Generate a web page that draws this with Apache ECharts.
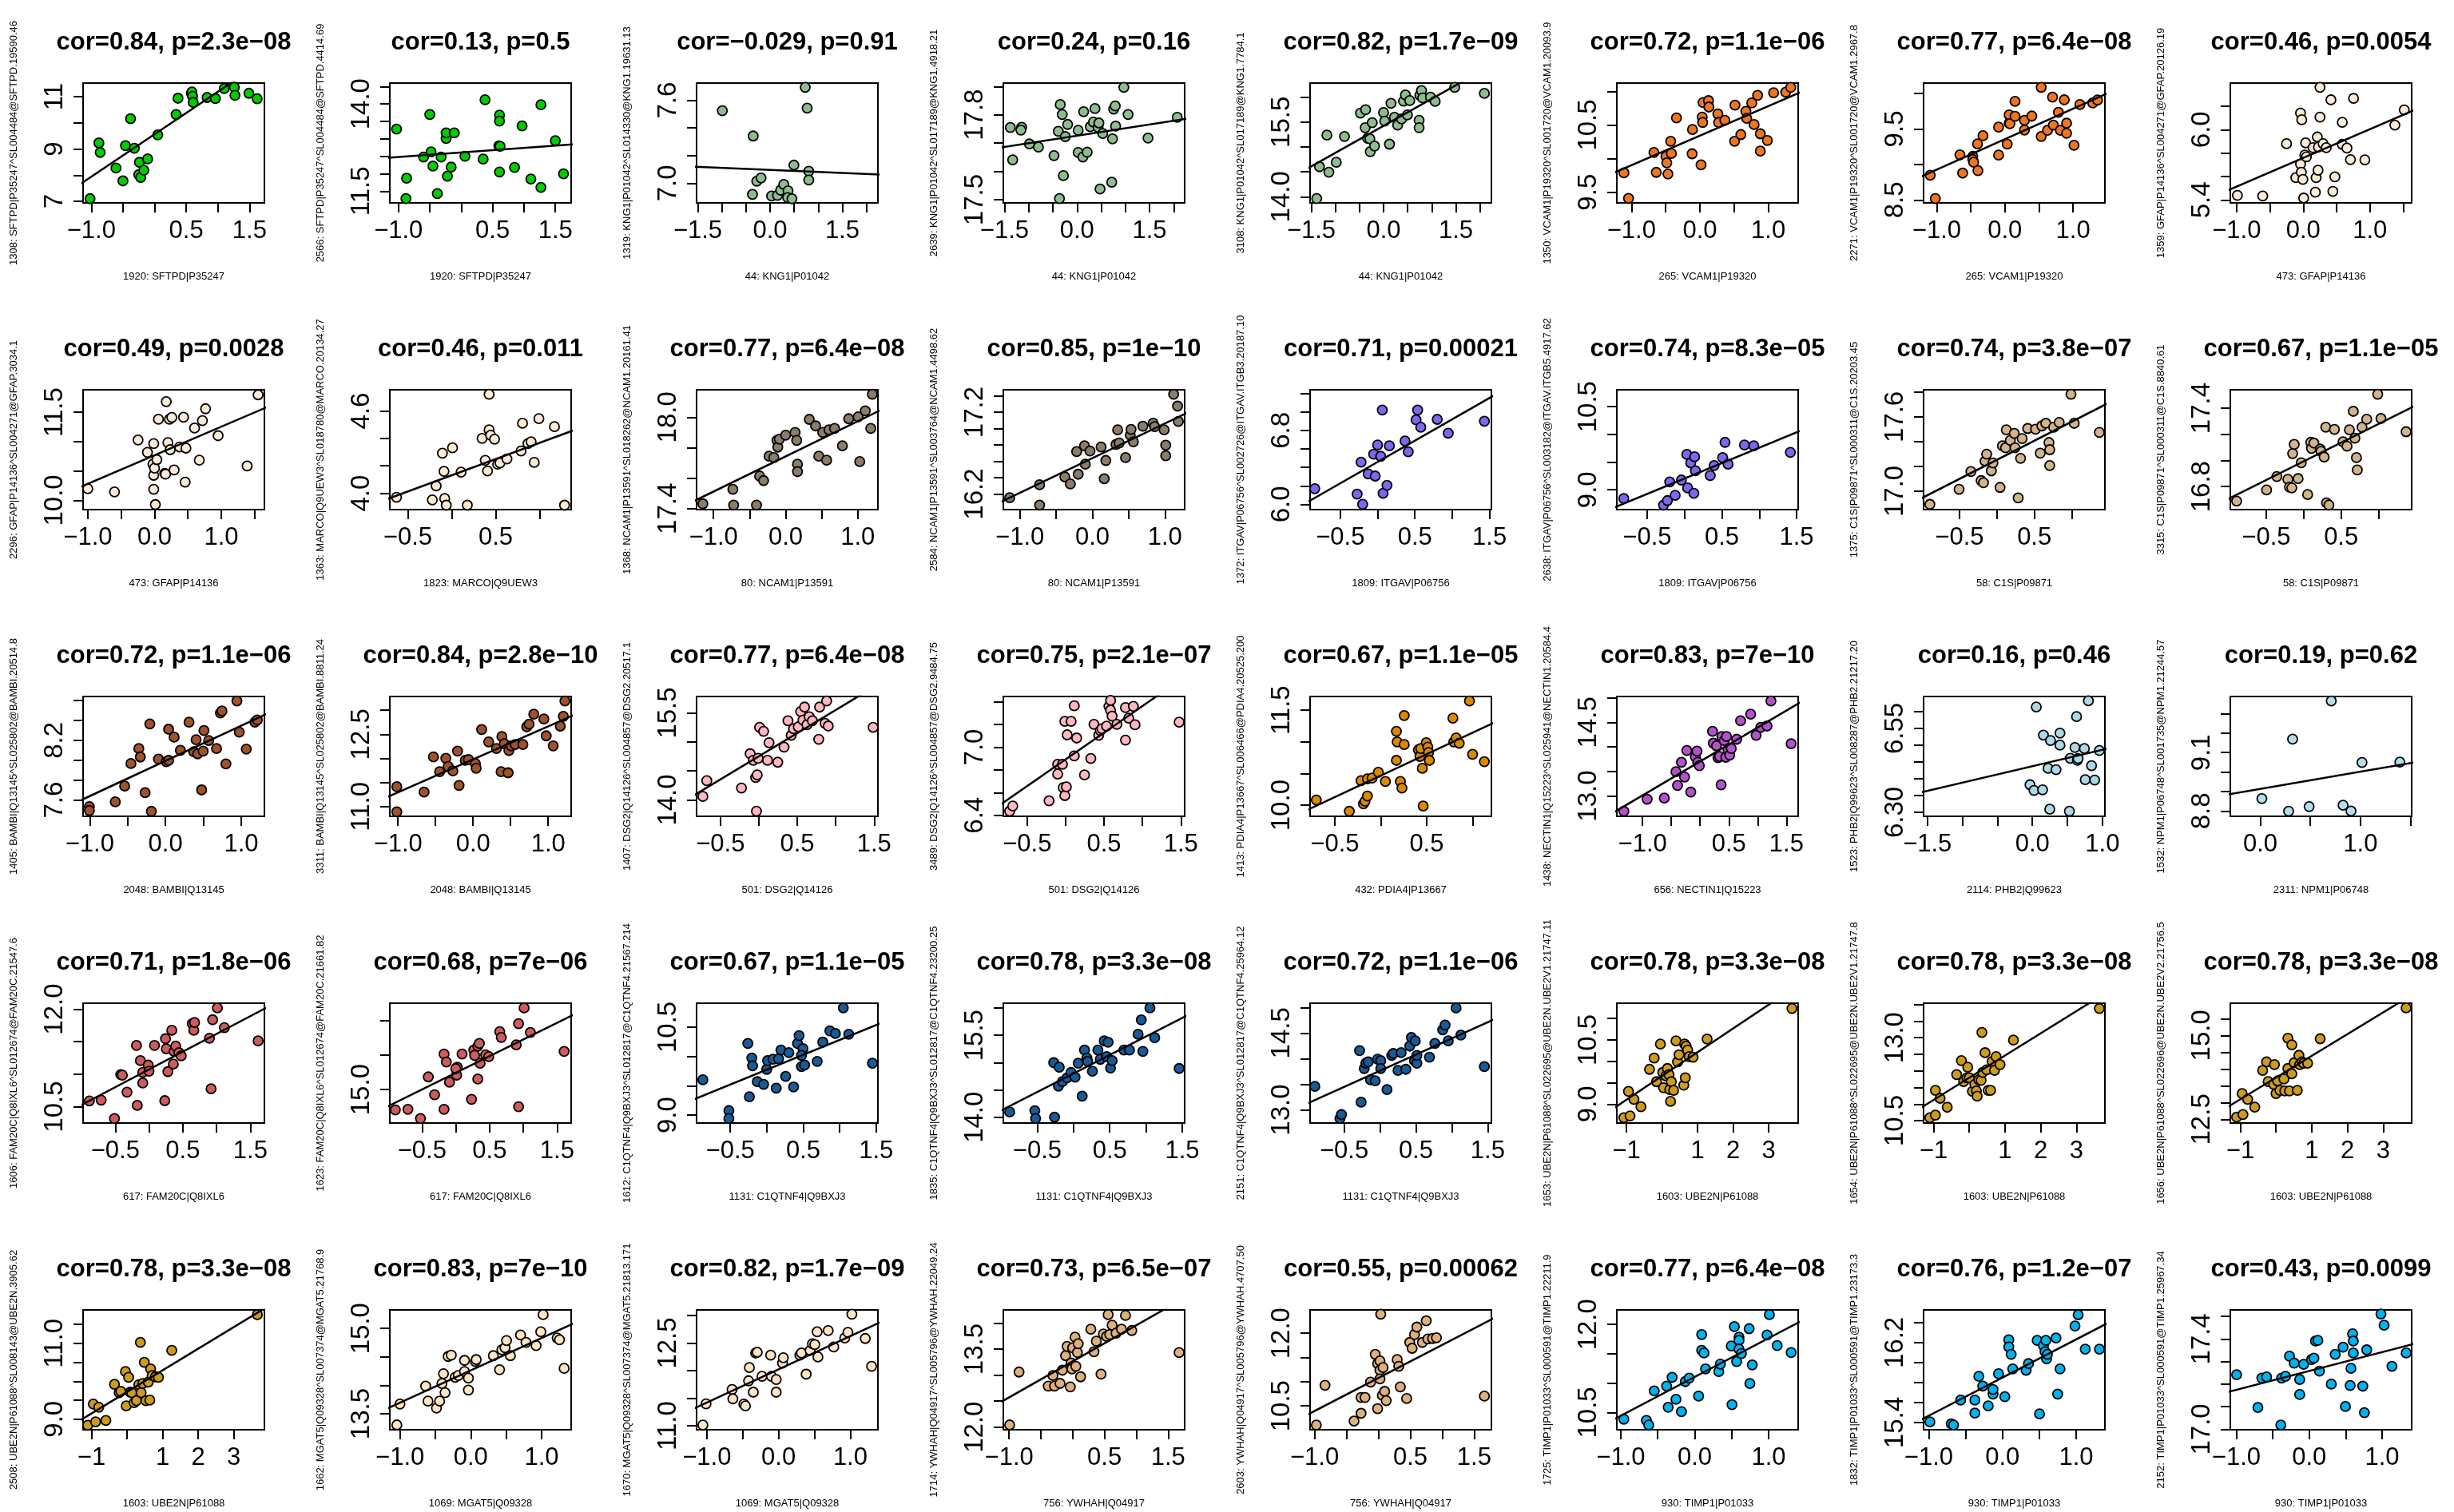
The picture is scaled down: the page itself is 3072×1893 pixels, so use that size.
<!DOCTYPE html>
<html>
<head>
<meta charset="utf-8">
<script src="https://cdn.jsdelivr.net/npm/echarts@6/dist/echarts.min.js"></script>
<style>
  html, body { margin: 0; padding: 0; background: #fff; }
  #chart { width: 3072px; height: 1893px; }
</style>
</head>
<body>
<div id="chart"></div>
<script>
// ---- panel texts -------------------------------------------------------
const titles = [
  'cor=0.84, p=2.3e-08', 'cor=0.13, p=0.5', 'cor=-0.029, p=0.91', 'cor=0.24, p=0.16',
  'cor=0.82, p=1.7e-09', 'cor=0.72, p=1.1e-06', 'cor=0.77, p=6.4e-08', 'cor=0.46, p=0.0054',
  'cor=0.49, p=0.0028', 'cor=0.46, p=0.011', 'cor=0.77, p=6.4e-08', 'cor=0.85, p=1e-10',
  'cor=0.71, p=0.00021', 'cor=0.74, p=8.3e-05', 'cor=0.74, p=3.8e-07', 'cor=0.67, p=1.1e-05',
  'cor=0.72, p=1.1e-06', 'cor=0.84, p=2.8e-10', 'cor=0.77, p=6.4e-08', 'cor=0.75, p=2.1e-07',
  'cor=0.67, p=1.1e-05', 'cor=0.83, p=7e-10', 'cor=0.16, p=0.46', 'cor=0.19, p=0.62',
  'cor=0.71, p=1.8e-06', 'cor=0.68, p=7e-06', 'cor=0.67, p=1.1e-05', 'cor=0.78, p=3.3e-08',
  'cor=0.72, p=1.1e-06', 'cor=0.78, p=3.3e-08', 'cor=0.78, p=3.3e-08', 'cor=0.78, p=3.3e-08',
  'cor=0.78, p=3.3e-08', 'cor=0.83, p=7e-10', 'cor=0.82, p=1.7e-09', 'cor=0.73, p=6.5e-07',
  'cor=0.55, p=0.00062', 'cor=0.77, p=6.4e-08', 'cor=0.76, p=1.2e-07', 'cor=0.43, p=0.0099'
];

const yNames = [
  '1308: SFTPD|P35247^SL004484@SFTPD.19590.46', '2566: SFTPD|P35247^SL004484@SFTPD.4414.69',
  '1319: KNG1|P01042^SL014330@KNG1.19631.13', '2639: KNG1|P01042^SL017189@KNG1.4918.21',
  '3108: KNG1|P01042^SL017189@KNG1.7784.1', '1350: VCAM1|P19320^SL001720@VCAM1.20093.9',
  '2271: VCAM1|P19320^SL001720@VCAM1.2967.8', '1359: GFAP|P14136^SL004271@GFAP.20126.19',
  '2296: GFAP|P14136^SL004271@GFAP.3034.1', '1363: MARCO|Q9UEW3^SL018780@MARCO.20134.27',
  '1368: NCAM1|P13591^SL018262@NCAM1.20161.41', '2584: NCAM1|P13591^SL003764@NCAM1.4498.62',
  '1372: ITGAV|P06756^SL002726@ITGAV.ITGB3.20187.10', '2638: ITGAV|P06756^SL003182@ITGAV.ITGB5.4917.62',
  '1375: C1S|P09871^SL000311@C1S.20203.45', '3315: C1S|P09871^SL000311@C1S.8840.61',
  '1405: BAMBI|Q13145^SL025802@BAMBI.20514.8', '3311: BAMBI|Q13145^SL025802@BAMBI.8811.24',
  '1407: DSG2|Q14126^SL004857@DSG2.20517.1', '3489: DSG2|Q14126^SL004857@DSG2.9484.75',
  '1413: PDIA4|P13667^SL006466@PDIA4.20525.200', '1438: NECTIN1|Q15223^SL025941@NECTIN1.20584.4',
  '1523: PHB2|Q99623^SL008287@PHB2.21217.20', '1532: NPM1|P06748^SL001735@NPM1.21244.57',
  '1606: FAM20C|Q8IXL6^SL012674@FAM20C.21547.6', '1623: FAM20C|Q8IXL6^SL012674@FAM20C.21661.82',
  '1612: C1QTNF4|Q9BXJ3^SL012817@C1QTNF4.21567.214', '1835: C1QTNF4|Q9BXJ3^SL012817@C1QTNF4.23200.25',
  '2151: C1QTNF4|Q9BXJ3^SL012817@C1QTNF4.25964.12', '1653: UBE2N|P61088^SL022695@UBE2N.UBE2V1.21747.11',
  '1654: UBE2N|P61088^SL022695@UBE2N.UBE2V1.21747.8', '1656: UBE2N|P61088^SL022696@UBE2N.UBE2V2.21756.5',
  '2508: UBE2N|P61088^SL008143@UBE2N.3905.62', '1662: MGAT5|Q09328^SL007374@MGAT5.21768.9',
  '1670: MGAT5|Q09328^SL007374@MGAT5.21813.171', '1714: YWHAH|Q04917^SL005796@YWHAH.22049.24',
  '2603: YWHAH|Q04917^SL005796@YWHAH.4707.50', '1725: TIMP1|P01033^SL000591@TIMP1.22211.9',
  '1832: TIMP1|P01033^SL000591@TIMP1.23173.3', '2152: TIMP1|P01033^SL000591@TIMP1.25967.34'
];

const xNames = [
  '1920: SFTPD|P35247', '1920: SFTPD|P35247', '44: KNG1|P01042', '44: KNG1|P01042',
  '44: KNG1|P01042', '265: VCAM1|P19320', '265: VCAM1|P19320', '473: GFAP|P14136',
  '473: GFAP|P14136', '1823: MARCO|Q9UEW3', '80: NCAM1|P13591', '80: NCAM1|P13591',
  '1809: ITGAV|P06756', '1809: ITGAV|P06756', '58: C1S|P09871', '58: C1S|P09871',
  '2048: BAMBI|Q13145', '2048: BAMBI|Q13145', '501: DSG2|Q14126', '501: DSG2|Q14126',
  '432: PDIA4|P13667', '656: NECTIN1|Q15223', '2114: PHB2|Q99623', '2311: NPM1|P06748',
  '617: FAM20C|Q8IXL6', '617: FAM20C|Q8IXL6', '1131: C1QTNF4|Q9BXJ3', '1131: C1QTNF4|Q9BXJ3',
  '1131: C1QTNF4|Q9BXJ3', '1603: UBE2N|P61088', '1603: UBE2N|P61088', '1603: UBE2N|P61088',
  '1603: UBE2N|P61088', '1069: MGAT5|Q09328', '1069: MGAT5|Q09328', '756: YWHAH|Q04917',
  '756: YWHAH|Q04917', '930: TIMP1|P01033', '930: TIMP1|P01033', '930: TIMP1|P01033'
];

const colors = [
  '#00CD00', '#00CD00', '#8FBC8F', '#8FBC8F', '#8FBC8F', '#EE7621', '#EE7621', '#FAEBD7',
  '#FAEBD7', '#FCEBD0', '#8B7D6B', '#8B7D6B', '#7B68EE', '#7B68EE', '#D2B48C', '#D2B48C',
  '#A0522D', '#A0522D', '#FFB6C1', '#FFB6C1', '#DA8A00', '#B452CD', '#ADD8E6', '#B2DFEE',
  '#CD5C5C', '#CD5C5C', '#1A5A96', '#1A5A96', '#1A5A96', '#CD9B1D', '#CD9B1D', '#CD9B1D',
  '#CD9B1D', '#FFE4C4', '#FFE4C4', '#DEB07D', '#DEB07D', '#00B2EE', '#00B2EE', '#00B2EE'
];

// ---- axis ranges (plot box limits) -------------------------------------
const xLims = [
  [-1.130, 1.735], [-1.137, 1.752], [-1.525, 2.238], [-1.524, 2.226], [-1.525, 2.238],
  [-1.214, 1.436], [-1.192, 1.467], [-1.094, 1.626], [-1.071, 1.647], [-0.704, 1.358],
  [-1.235, 1.279], [-1.228, 1.272], [-0.905, 1.526], [-0.906, 1.521], [-0.979, 1.442],
  [-0.979, 1.442], [-1.088, 1.306], [-1.109, 1.306], [-0.810, 1.549], [-0.810, 1.549],
  [-0.769, 1.205], [-1.446, 1.703], [-1.554, 1.036], [-0.299, 1.512], [-0.977, 1.709],
  [-0.977, 1.709], [-0.962, 1.524], [-0.967, 1.533], [-0.973, 1.552], [-1.269, 3.829],
  [-1.280, 3.797], [-1.280, 3.797], [-1.236, 3.863], [-1.143, 1.418], [-1.143, 1.385],
  [-1.090, 1.760], [-1.070, 1.771], [-1.053, 1.400], [-1.070, 1.390], [-1.081, 1.405]
];
const yLims = [
  [6.94, 11.52], [11.165, 14.60], [6.858, 7.725], [17.489, 17.912], [13.877, 16.283],
  [9.342, 11.123], [8.459, 10.146], [5.375, 6.397], [9.843, 11.881], [3.881, 4.754],
  [17.394, 18.180], [16.010, 17.474], [5.943, 7.240], [8.643, 10.805], [16.851, 17.819],
  [16.624, 17.541], [7.436, 8.640], [10.797, 13.285], [13.718, 15.782], [6.391, 7.447],
  [9.825, 11.717], [12.586, 15.027], [6.288, 6.645], [8.773, 9.388], [10.249, 12.093],
  [14.517, 16.247], [8.865, 10.908], [13.894, 16.087], [12.743, 15.082], [8.557, 11.357],
  [10.429, 14.040], [12.390, 15.959], [8.721, 11.882], [13.221, 15.325], [10.928, 13.101],
  [11.949, 14.254], [10.009, 12.480], [10.207, 12.248], [15.329, 16.527], [16.998, 17.529]
];

// ---- tick marks and the tick labels that are printed --------------------
const xTicks = [
  [-1, -0.5, 0, 0.5, 1, 1.5], [-1, -0.5, 0, 0.5, 1, 1.5],
  [-1.5, -1, -0.5, 0, 0.5, 1, 1.5, 2], [-1.5, -1, -0.5, 0, 0.5, 1, 1.5, 2], [-1.5, -1, -0.5, 0, 0.5, 1, 1.5, 2],
  [-1, -0.5, 0, 0.5, 1], [-1, -0.5, 0, 0.5, 1], [-1, -0.5, 0, 0.5, 1, 1.5],
  [-1, -0.5, 0, 0.5, 1, 1.5], [-0.5, 0, 0.5, 1], [-1, -0.5, 0, 0.5, 1], [-1, -0.5, 0, 0.5, 1],
  [-0.5, 0, 0.5, 1, 1.5], [-0.5, 0, 0.5, 1, 1.5], [-0.5, 0, 0.5, 1], [-0.5, 0, 0.5, 1],
  [-1, -0.5, 0, 0.5, 1], [-1, -0.5, 0, 0.5, 1], [-0.5, 0, 0.5, 1, 1.5], [-0.5, 0, 0.5, 1, 1.5],
  [-0.5, 0, 0.5, 1], [-1, -0.5, 0, 0.5, 1, 1.5], [-1.5, -1, -0.5, 0, 0.5, 1], [0, 0.5, 1, 1.5],
  [-0.5, 0, 0.5, 1, 1.5], [-0.5, 0, 0.5, 1, 1.5], [-0.5, 0, 0.5, 1, 1.5], [-0.5, 0, 0.5, 1, 1.5],
  [-0.5, 0, 0.5, 1, 1.5], [-1, 0, 1, 2, 3], [-1, 0, 1, 2, 3], [-1, 0, 1, 2, 3],
  [-1, 0, 1, 2, 3], [-1, -0.5, 0, 0.5, 1], [-1, -0.5, 0, 0.5, 1], [-1, -0.5, 0, 0.5, 1, 1.5],
  [-1, -0.5, 0, 0.5, 1, 1.5], [-1, -0.5, 0, 0.5, 1], [-1, -0.5, 0, 0.5, 1], [-1, -0.5, 0, 0.5, 1]
];
const xTickLabels = [
  ['-1.0', '0.5', '1.5'], ['-1.0', '0.5', '1.5'], ['-1.5', '0.0', '1.5'], ['-1.5', '0.0', '1.5'],
  ['-1.5', '0.0', '1.5'], ['-1.0', '0.0', '1.0'], ['-1.0', '0.0', '1.0'], ['-1.0', '0.0', '1.0'],
  ['-1.0', '0.0', '1.0'], ['-0.5', '0.5'], ['-1.0', '0.0', '1.0'], ['-1.0', '0.0', '1.0'],
  ['-0.5', '0.5', '1.5'], ['-0.5', '0.5', '1.5'], ['-0.5', '0.5'], ['-0.5', '0.5'],
  ['-1.0', '0.0', '1.0'], ['-1.0', '0.0', '1.0'], ['-0.5', '0.5', '1.5'], ['-0.5', '0.5', '1.5'],
  ['-0.5', '0.5'], ['-1.0', '0.5', '1.5'], ['-1.5', '0.0', '1.0'], ['0.0', '1.0'],
  ['-0.5', '0.5', '1.5'], ['-0.5', '0.5', '1.5'], ['-0.5', '0.5', '1.5'], ['-0.5', '0.5', '1.5'],
  ['-0.5', '0.5', '1.5'], ['-1', '1', '2', '3'], ['-1', '1', '2', '3'], ['-1', '1', '2', '3'],
  ['-1', '1', '2', '3'], ['-1.0', '0.0', '1.0'], ['-1.0', '0.0', '1.0'], ['-1.0', '0.5', '1.5'],
  ['-1.0', '0.5', '1.5'], ['-1.0', '0.0', '1.0'], ['-1.0', '0.0', '1.0'], ['-1.0', '0.0', '1.0']
];
const yTicks = [
  [7, 8, 9, 10, 11], [11.5, 12, 12.5, 13, 13.5, 14, 14.5], [7.0, 7.2, 7.4, 7.6],
  [17.5, 17.6, 17.7, 17.8, 17.9], [14, 14.5, 15, 15.5, 16], [9.5, 10, 10.5, 11],
  [8.5, 9, 9.5, 10], [5.4, 5.6, 5.8, 6.0, 6.2], [10, 10.5, 11, 11.5], [4.0, 4.2, 4.4, 4.6],
  [17.4, 17.6, 17.8, 18.0], [16.2, 16.4, 16.6, 16.8, 17.0, 17.2, 17.4],
  [6.0, 6.2, 6.4, 6.6, 6.8, 7.0, 7.2], [9, 9.5, 10, 10.5], [17.0, 17.2, 17.4, 17.6, 17.8],
  [16.8, 17.0, 17.2, 17.4], [7.6, 7.8, 8.0, 8.2, 8.4, 8.6], [11, 11.5, 12, 12.5, 13],
  [14, 14.5, 15, 15.5], [6.4, 6.6, 6.8, 7.0, 7.2, 7.4], [10, 10.5, 11, 11.5],
  [13, 13.5, 14, 14.5, 15], [6.30, 6.35, 6.40, 6.45, 6.50, 6.55, 6.60],
  [8.8, 8.9, 9.0, 9.1, 9.2, 9.3], [10.5, 11, 11.5, 12], [15, 15.5, 16], [9, 9.5, 10, 10.5],
  [14, 14.5, 15, 15.5, 16], [13, 13.5, 14, 14.5, 15], [9, 9.5, 10, 10.5, 11],
  [10.5, 11, 11.5, 12, 12.5, 13, 13.5, 14], [12.5, 13, 13.5, 14, 14.5, 15, 15.5],
  [9, 9.5, 10, 10.5, 11, 11.5], [13.5, 14, 14.5, 15], [11, 11.5, 12, 12.5, 13],
  [12, 12.5, 13, 13.5, 14], [10.5, 11, 11.5, 12], [10.5, 11, 11.5, 12],
  [15.4, 15.6, 15.8, 16.0, 16.2, 16.4], [17.0, 17.1, 17.2, 17.3, 17.4, 17.5]
];
const yTickLabels = [
  ['7', '9', '11'], ['11.5', '14.0'], ['7.0', '7.6'], ['17.5', '17.8'], ['14.0', '15.5'],
  ['9.5', '10.5'], ['8.5', '9.5'], ['5.4', '6.0'], ['10.0', '11.5'], ['4.0', '4.6'],
  ['17.4', '18.0'], ['16.2', '17.2'], ['6.0', '6.8'], ['9.0', '10.5'], ['17.0', '17.6'],
  ['16.8', '17.4'], ['7.6', '8.2'], ['11.0', '12.5'], ['14.0', '15.5'], ['6.4', '7.0'],
  ['10.0', '11.5'], ['13.0', '14.5'], ['6.30', '6.55'], ['8.8', '9.1'], ['10.5', '12.0'],
  ['15.0'], ['9.0', '10.5'], ['14.0', '15.5'], ['13.0', '14.5'], ['9.0', '10.5'],
  ['10.5', '13.0'], ['12.5', '15.0'], ['9.0', '11.0'], ['13.5', '15.0'], ['11.0', '12.5'],
  ['12.0', '13.5'], ['10.5', '12.0'], ['10.5', '12.0'], ['15.4', '16.2'], ['17.0', '17.4']
];

// ---- least-squares lines, two points on each ---------------------------
const fitLines = [
  [[-1.130, 7.73], [1.204, 11.52]], [[-1.137, 12.46], [1.752, 12.84]],
  [[-1.525, 7.119], [2.238, 7.063]], [[-1.524, 17.686], [2.226, 17.785]],
  [[-1.525, 14.597], [1.582, 16.283]], [[-1.214, 9.808], [1.436, 10.973]],
  [[-1.192, 8.844], [1.467, 9.985]], [[-1.094, 5.491], [1.626, 6.157]],
  [[-1.071, 10.247], [1.647, 11.567]], [[-0.704, 3.965], [1.358, 4.452]],
  [[-1.235, 17.458], [1.279, 18.038]], [[-1.228, 16.119], [1.272, 17.177]],
  [[-0.905, 6.040], [1.526, 7.163]], [[-0.906, 8.700], [1.521, 10.048]],
  [[-0.979, 16.951], [1.442, 17.698]], [[-0.979, 16.713], [1.442, 17.406]],
  [[-1.088, 7.608], [1.306, 8.454]], [[-1.109, 11.219], [1.306, 12.874]],
  [[-0.810, 14.105], [1.292, 15.782]], [[-0.810, 6.512], [1.179, 7.447]],
  [[-0.769, 9.946], [1.205, 11.283]], [[-1.446, 12.704], [1.703, 14.882]],
  [[-1.554, 6.361], [1.036, 6.488]], [[-0.299, 8.887], [1.512, 9.047]],
  [[-0.977, 10.541], [1.709, 12.008]], [[-0.977, 14.772], [1.709, 16.065]],
  [[-0.962, 9.287], [1.524, 10.549]], [[-0.967, 14.145], [1.533, 15.841]],
  [[-0.973, 13.149], [1.552, 14.743]], [[-1.269, 8.951], [3.063, 11.357]],
  [[-1.280, 10.937], [3.355, 14.040]], [[-1.280, 12.916], [3.422, 15.959]],
  [[-1.236, 9.014], [3.797, 11.882]], [[-1.143, 13.616], [1.418, 15.070]],
  [[-1.143, 11.336], [1.385, 12.856]], [[-1.090, 12.509], [1.425, 14.254]],
  [[-1.070, 10.347], [1.771, 12.284]], [[-1.053, 10.410], [1.400, 12.032]],
  [[-1.070, 15.442], [1.390, 16.381]], [[-1.081, 17.168], [1.405, 17.376]]
];

// ---- sample values, one list per panel ---------------------------------
const P01 = [[-1.02,7.10],[-0.88,9.23],[-0.86,8.87],[-0.61,8.27],[-0.50,7.78],[-0.46,9.13],[-0.38,10.16],[-0.32,9.03],[-0.25,8.02],[-0.24,8.49],[-0.22,7.91],[-0.17,8.19],[-0.11,8.62],[0.05,9.54],[0.34,10.32],[0.37,10.94],[0.58,11.13],[0.59,11.18],[0.60,11.01],[0.61,10.78],[0.83,10.97],[0.96,10.93],[1.10,11.31],[1.26,11.36],[1.27,11.05],[1.49,11.13],[1.62,10.92]];
const P02 = [[-1.03,13.28],[-0.87,11.87],[-0.88,11.29],[-0.60,12.48],[-0.50,13.70],[-0.48,12.63],[-0.45,12.22],[-0.38,11.43],[-0.32,12.48],[-0.24,13.01],[-0.24,13.17],[-0.22,11.93],[-0.16,12.19],[-0.11,13.17],[0.06,12.50],[0.35,12.42],[0.38,14.12],[0.61,13.68],[0.61,13.51],[0.60,12.80],[0.62,12.79],[0.61,12.05],[0.85,12.18],[0.97,13.37],[1.11,11.85],[1.27,13.98],[1.27,11.61],[1.50,12.95],[1.63,12.00]];
const P03 = [[-0.99,7.525],[-0.35,7.342],[-0.365,6.919],[-0.276,7.015],[-0.187,7.038],[0.032,6.908],[0.154,6.912],[0.219,6.950],[0.284,6.992],[0.373,6.946],[0.365,6.896],[0.454,6.888],[0.495,7.131],[0.730,7.694],[0.770,7.544],[0.803,7.087],[0.803,7.023]];
const P04 = [[-1.379,17.755],[-1.331,17.641],[-1.145,17.756],[-1.161,17.746],[-0.984,17.697],[-0.798,17.686],[-0.476,17.656],[-0.387,17.742],[-0.363,17.504],[-0.347,17.836],[-0.306,17.801],[-0.282,17.585],[-0.242,17.723],[-0.194,17.766],[0.024,17.745],[0.024,17.667],[0.121,17.651],[0.137,17.811],[0.210,17.668],[0.274,17.758],[0.339,17.774],[0.371,17.822],[0.435,17.756],[0.452,17.771],[0.532,17.734],[0.476,17.538],[0.734,17.715],[0.718,17.562],[0.758,17.820],[0.790,17.831],[0.798,17.760],[0.968,17.897],[1.056,17.801],[1.468,17.718],[2.073,17.791]];
const P05 = [[-1.387,13.963],[-1.330,14.603],[-1.176,15.237],[-1.135,14.491],[-0.981,14.693],[-0.811,15.211],[-0.479,15.680],[-0.373,15.749],[-0.381,15.387],[-0.333,15.173],[-0.284,15.163],[-0.276,14.907],[-0.235,15.488],[-0.187,15.019],[0.000,15.691],[0.024,15.520],[0.122,15.056],[0.154,15.877],[0.227,15.595],[0.292,15.440],[0.373,15.563],[0.414,15.920],[0.454,16.043],[0.495,15.643],[0.543,15.931],[0.738,15.536],[0.738,15.387],[0.754,16.037],[0.787,16.133],[0.811,15.984],[0.973,16.000],[1.071,15.915],[1.476,16.197],[2.092,16.075]];
const P06 = [[-1.111,9.788],[-1.043,9.409],[-0.672,10.092],[-0.638,9.796],[-0.496,10.033],[-0.484,9.938],[-0.467,9.772],[-0.427,10.258],[-0.416,10.076],[-0.342,10.605],[-0.114,10.072],[-0.108,10.432],[0.017,9.907],[0.034,10.617],[0.040,10.538],[0.046,10.834],[0.125,10.862],[0.131,10.767],[0.262,10.665],[0.274,10.538],[0.365,10.570],[0.507,10.258],[0.513,10.795],[0.598,10.357],[0.672,10.704],[0.684,10.598],[0.758,10.827],[0.792,10.507],[0.843,10.941],[0.883,10.369],[0.883,10.112],[0.986,10.270],[1.077,10.980],[1.254,10.988],[1.328,11.059]];
const P07 = [[-1.095,8.848],[-1.020,8.519],[-0.659,9.136],[-0.619,8.878],[-0.470,9.114],[-0.470,9.069],[-0.458,9.031],[-0.401,9.289],[-0.395,8.912],[-0.321,9.405],[-0.092,9.132],[-0.092,9.525],[0.034,9.286],[0.063,9.581],[0.063,9.697],[0.074,9.574],[0.149,9.678],[0.149,9.888],[0.287,9.622],[0.287,9.484],[0.395,9.682],[0.533,9.394],[0.533,10.086],[0.625,9.480],[0.699,9.948],[0.711,9.555],[0.785,9.735],[0.814,9.480],[0.871,9.910],[0.905,9.581],[0.905,9.439],[1.014,9.271],[1.100,9.843],[1.289,9.866],[1.358,9.907]];
const P08 = [[-0.988,5.439],[-0.608,5.434],[-0.251,5.880],[-0.111,5.590],[-0.041,6.141],[-0.023,6.084],[-0.041,5.706],[-0.029,5.636],[-0.006,5.575],[0.006,5.416],[0.023,5.783],[0.035,5.887],[0.047,5.767],[0.146,5.846],[0.181,5.466],[0.193,5.590],[0.211,5.937],[0.222,5.654],[0.228,5.851],[0.251,6.361],[0.251,6.107],[0.298,5.880],[0.345,5.846],[0.415,6.254],[0.444,5.473],[0.474,5.597],[0.585,6.062],[0.585,5.874],[0.655,5.842],[0.708,5.744],[0.754,6.266],[0.924,5.742],[1.374,6.039],[1.515,6.168]];
const P09 = [[-1.000,10.198],[-0.600,10.144],[-0.247,11.028],[-0.106,10.817],[-0.024,10.615],[-0.012,10.965],[-0.012,10.427],[-0.012,10.189],[0.000,10.548],[0.012,9.928],[0.035,10.692],[0.059,11.379],[0.153,10.458],[0.176,11.679],[0.200,10.983],[0.224,11.379],[0.235,10.862],[0.259,11.410],[0.294,10.516],[0.165,10.445],[0.376,10.907],[0.435,11.414],[0.459,10.310],[0.471,10.889],[0.600,11.230],[0.671,10.683],[0.718,11.356],[0.765,11.558],[0.953,11.100],[1.388,10.584],[1.553,11.796]];
const P10 = [[-0.628,3.971],[-0.221,3.952],[-0.177,4.054],[-0.106,4.292],[-0.088,4.160],[-0.080,3.962],[-0.062,3.913],[0.009,4.331],[0.106,4.154],[0.177,3.913],[0.345,4.400],[0.381,4.240],[0.407,4.163],[0.425,4.462],[0.425,4.721],[0.442,4.423],[0.487,4.394],[0.522,4.212],[0.549,4.221],[0.628,4.250],[0.788,4.308],[0.805,4.510],[0.867,4.362],[0.903,4.375],[0.938,4.225],[0.991,4.544],[1.168,4.485],[1.283,3.913]];
const P11 = [[-1.148,17.432],[-0.732,17.527],[-0.721,17.423],[-0.404,17.423],[-0.361,17.614],[-0.306,17.584],[-0.230,17.744],[-0.164,17.735],[-0.120,17.848],[-0.109,17.804],[-0.087,17.856],[0.000,17.882],[0.131,17.900],[0.153,17.848],[0.164,17.692],[0.164,17.643],[0.328,17.986],[0.415,17.943],[0.459,17.744],[0.514,17.900],[0.568,17.718],[0.601,17.917],[0.678,17.926],[0.787,17.813],[0.874,17.990],[1.005,18.003],[1.027,17.709],[1.104,18.042],[1.180,17.926],[1.202,18.151]];
const P12 = [[-1.141,16.155],[-0.728,16.313],[-0.728,16.065],[-0.380,16.410],[-0.304,16.323],[-0.196,16.442],[-0.217,16.719],[-0.109,16.790],[-0.033,16.726],[-0.098,16.565],[0.120,16.774],[0.163,16.387],[0.185,16.610],[0.326,16.806],[0.348,16.984],[0.370,16.823],[0.457,16.645],[0.522,16.919],[0.533,16.990],[0.565,16.839],[0.696,17.029],[0.837,17.065],[0.859,17.023],[0.989,16.984],[1.011,16.797],[1.011,16.668],[1.120,17.419],[1.174,17.274],[1.185,17.087]];
const P13 = [[-0.842,6.169],[-0.274,6.111],[-0.200,6.000],[-0.221,6.457],[-0.126,6.329],[-0.053,6.543],[-0.032,6.306],[0.042,6.520],[0.000,6.643],[0.063,7.020],[0.074,6.120],[0.126,6.206],[0.158,6.634],[0.368,6.686],[0.411,6.569],[0.516,6.914],[0.537,7.020],[0.579,6.834],[0.800,6.920],[0.947,6.769],[1.432,6.900]];
const P14 = [[-0.813,8.843],[-0.281,8.724],[-0.229,8.805],[-0.198,9.143],[-0.125,8.900],[-0.042,9.176],[0.031,9.638],[0.042,9.033],[0.083,9.486],[0.125,8.938],[0.135,9.595],[0.146,9.343],[0.344,9.257],[0.396,9.438],[0.510,9.581],[0.542,9.857],[0.583,9.462],[0.802,9.810],[0.927,9.795],[1.417,9.676]];
const P15 = [[-0.895,16.893],[-0.505,17.015],[-0.347,17.158],[-0.211,17.085],[-0.179,17.068],[-0.158,17.243],[-0.137,17.299],[-0.074,17.164],[-0.053,17.228],[0.042,17.030],[0.074,17.367],[0.116,17.350],[0.126,17.495],[0.179,17.410],[0.232,17.467],[0.242,17.350],[0.284,16.945],[0.316,17.265],[0.337,17.425],[0.411,17.506],[0.516,17.501],[0.579,17.307],[0.600,17.527],[0.653,17.548],[0.695,17.393],[0.705,17.335],[0.705,17.207],[0.758,17.516],[0.832,17.555],[0.989,17.783],[1.032,17.548],[1.368,17.474]];
const P16 = [[-0.895,16.689],[-0.495,16.774],[-0.358,16.877],[-0.211,16.855],[-0.189,16.796],[-0.158,16.790],[-0.074,16.861],[-0.032,16.982],[0.053,16.739],[0.095,17.139],[0.105,17.093],[0.137,17.133],[-0.147,17.053],[-0.126,17.123],[0.221,17.087],[0.232,17.069],[0.274,17.026],[0.305,16.675],[0.337,16.659],[0.295,17.255],[0.411,17.238],[0.526,17.143],[0.579,17.109],[0.611,17.234],[0.663,17.376],[0.684,17.170],[0.705,17.022],[0.716,16.927],[0.779,17.255],[0.842,17.315],[0.989,17.507],[1.032,17.321],[1.368,17.220]];
const P17 = [[-1.005,7.534],[-1.005,7.494],[-0.663,7.581],[-0.539,7.740],[-0.269,7.674],[-0.187,7.486],[-0.456,7.966],[-0.352,8.117],[-0.332,8.032],[-0.207,8.364],[-0.093,8.011],[0.010,7.985],[0.041,7.998],[0.041,8.311],[0.114,8.231],[0.197,8.099],[0.311,8.382],[0.373,8.085],[0.404,8.205],[0.425,8.064],[0.477,7.701],[0.508,8.298],[0.497,8.091],[0.570,8.197],[0.674,8.117],[0.725,8.475],[0.746,8.494],[0.798,7.963],[0.943,8.595],[0.974,8.282],[1.067,8.112],[1.181,8.382],[1.212,8.404]];
const P18 = [[-1.016,11.411],[-1.016,10.890],[-0.653,11.301],[-0.528,12.030],[-0.446,11.723],[-0.363,12.003],[-0.332,11.833],[-0.269,11.740],[-0.207,12.151],[-0.187,11.438],[-0.104,11.959],[-0.062,11.975],[0.031,11.888],[0.041,11.795],[0.114,12.600],[0.207,12.342],[0.311,12.205],[0.373,11.723],[0.383,12.452],[0.415,12.304],[0.466,11.701],[0.477,12.162],[0.508,12.260],[0.560,12.288],[0.663,12.288],[0.715,12.655],[0.746,12.710],[0.808,12.918],[0.943,12.819],[0.974,12.468],[1.067,12.260],[1.161,12.671],[1.202,12.874],[1.223,13.192]];
const P19 = [[-0.728,14.059],[-0.677,14.332],[-0.226,14.205],[-0.113,14.795],[-0.072,14.682],[-0.041,14.386],[-0.031,13.805],[-0.021,14.432],[-0.010,14.718],[0.010,15.250],[0.062,15.182],[0.113,14.682],[0.133,14.986],[0.246,14.650],[0.328,14.909],[0.379,15.364],[0.421,15.114],[0.451,15.227],[0.513,15.259],[0.544,15.523],[0.574,15.373],[0.595,15.600],[0.626,15.295],[0.656,15.432],[0.697,15.364],[0.779,15.045],[0.790,15.600],[0.862,15.318],[0.882,15.705],[0.903,15.273],[1.487,15.250]];
const P20 = [[-0.728,6.435],[-0.687,6.481],[-0.215,6.528],[-0.103,6.849],[-0.103,6.763],[-0.041,6.849],[-0.031,6.644],[-0.010,6.574],[0.010,6.651],[-0.010,7.228],[0.072,7.228],[0.021,7.109],[0.113,6.923],[0.113,7.365],[0.144,7.081],[0.246,6.756],[0.328,6.900],[0.369,7.202],[0.431,7.105],[0.451,7.147],[0.472,7.163],[0.533,7.186],[0.564,7.360],[0.585,7.412],[0.585,7.326],[0.605,7.274],[0.667,7.202],[0.779,7.349],[0.779,7.063],[0.821,7.256],[0.882,7.360],[0.903,7.198],[1.477,7.221]];
const P21 = [[-0.701,10.083],[-0.342,9.904],[-0.214,10.388],[-0.188,10.021],[-0.171,10.063],[-0.145,10.146],[-0.145,10.417],[-0.094,10.429],[-0.026,10.521],[0.051,10.375],[0.171,10.708],[0.171,11.167],[0.179,11.000],[0.214,10.375],[0.231,10.271],[0.256,10.958],[0.256,11.417],[0.410,10.875],[0.427,10.771],[0.436,10.896],[0.453,10.583],[0.462,9.988],[0.496,10.988],[0.513,10.917],[0.521,10.833],[0.530,10.708],[0.786,11.375],[0.795,11.000],[0.821,11.063],[0.855,10.979],[0.966,11.646],[1.000,10.804],[1.128,10.688]];
const P22 = [[-1.324,12.688],[-0.919,12.935],[-0.622,12.957],[-0.419,13.495],[-0.392,13.215],[-0.324,13.688],[-0.270,13.387],[-0.230,13.925],[-0.162,13.081],[-0.081,13.796],[-0.054,13.914],[-0.041,13.688],[-0.014,13.618],[0.216,14.317],[0.230,14.075],[0.284,14.022],[0.311,13.780],[0.338,13.806],[0.365,13.226],[0.378,14.210],[0.419,14.129],[0.446,13.790],[0.459,14.210],[0.486,13.941],[0.514,13.833],[0.541,13.968],[0.635,14.156],[0.703,14.532],[0.878,14.667],[0.973,14.237],[1.054,14.398],[1.162,14.425],[1.230,14.935],[1.581,14.065]];
const P23 = [[-0.034,6.382],[0.023,6.365],[0.146,6.367],[0.056,6.614],[0.158,6.530],[0.259,6.514],[0.248,6.309],[0.225,6.431],[0.338,6.427],[0.394,6.536],[0.394,6.500],[0.541,6.461],[0.529,6.303],[0.608,6.493],[0.631,6.585],[0.642,6.455],[0.653,6.460],[0.743,6.490],[0.755,6.397],[0.800,6.632],[0.845,6.439],[0.890,6.396],[0.957,6.484]];
const P24 = [[0.016,8.864],[0.283,8.799],[0.323,9.169],[0.488,8.823],[0.709,9.365],[0.827,8.830],[0.906,8.800],[1.016,9.049],[1.394,9.051]];
const P25 = [[-0.884,10.589],[-0.709,10.601],[-0.512,10.318],[-0.326,10.723],[-0.174,10.520],[-0.186,11.444],[-0.128,11.209],[-0.093,10.865],[-0.093,11.027],[-0.012,11.140],[0.000,11.047],[0.081,11.444],[0.233,10.593],[0.244,11.546],[0.256,11.392],[0.279,11.039],[0.337,11.676],[0.360,11.157],[0.372,11.351],[0.395,11.432],[0.442,11.331],[0.477,11.282],[0.640,11.777],[0.663,11.676],[0.674,11.797],[0.895,11.554],[0.919,10.776],[0.942,11.838],[1.012,12.020],[1.116,11.716],[1.616,11.513],[-0.419,10.995],[-0.395,10.986]];
const P26 = [[-0.895,14.707],[-0.709,14.715],[-0.523,14.582],[-0.407,15.183],[-0.314,14.924],[-0.174,15.513],[-0.174,14.715],[-0.140,15.399],[-0.093,15.106],[0.012,15.209],[0.023,15.323],[0.093,15.513],[0.233,14.859],[0.267,15.570],[0.279,15.494],[0.326,15.627],[0.349,15.665],[0.326,15.152],[0.360,15.380],[0.442,15.502],[0.488,15.475],[0.651,15.837],[0.674,15.753],[0.895,15.646],[0.930,15.951],[0.930,14.753],[1.012,16.179],[1.105,15.825],[1.605,15.551],[0.000,15.304]];
const P27 = [[-0.876,9.602],[-0.519,9.076],[-0.519,8.942],[-0.259,10.221],[-0.238,9.314],[-0.205,9.974],[-0.195,9.840],[-0.130,9.570],[-0.043,9.525],[0.000,9.781],[0.011,9.930],[0.086,9.952],[0.130,9.458],[0.162,9.961],[0.195,10.109],[0.259,9.660],[0.303,10.064],[0.368,9.480],[0.422,10.221],[0.443,10.356],[0.497,10.132],[0.476,10.019],[0.476,9.826],[0.519,9.853],[0.692,9.916],[0.768,10.244],[0.865,10.437],[0.941,10.392],[1.124,10.379],[1.449,9.885],[1.049,10.828]];
const P28 = [[-0.880,14.096],[-0.533,14.120],[-0.522,13.976],[-0.261,14.000],[-0.272,14.998],[-0.196,14.916],[-0.207,14.569],[-0.152,14.651],[-0.087,14.723],[-0.033,14.819],[0.022,14.733],[0.120,14.386],[0.065,14.988],[0.152,15.229],[0.185,15.084],[0.261,14.843],[0.196,15.022],[0.337,15.229],[0.370,15.060],[0.424,15.398],[0.457,15.108],[0.478,15.373],[0.511,14.901],[0.533,15.036],[0.696,15.229],[0.772,15.229],[0.891,15.518],[0.935,15.783],[0.957,15.205],[1.054,16.000],[1.120,15.455],[1.457,14.892]];
const P29 = [[-0.907,13.458],[-0.557,12.830],[-0.536,12.907],[-0.284,14.157],[-0.262,13.149],[-0.219,13.807],[-0.197,13.910],[-0.164,13.936],[-0.131,13.586],[-0.066,13.566],[-0.033,13.987],[0.011,13.961],[0.011,13.807],[0.098,13.396],[0.164,14.064],[0.186,14.100],[0.251,13.771],[0.295,14.116],[0.361,13.792],[0.415,14.244],[0.437,14.414],[0.481,13.961],[0.492,14.347],[0.514,13.910],[0.514,14.064],[0.689,14.028],[0.765,14.296],[0.874,14.563],[0.907,14.656],[0.951,14.347],[1.060,14.990],[1.126,14.460],[1.454,13.843]];
const P30 = [[-1.072,8.680],[-0.897,8.723],[-0.941,9.295],[-0.788,9.111],[-0.591,8.938],[-0.350,9.812],[-0.219,10.077],[-0.153,9.523],[-0.044,10.403],[0.022,9.738],[0.044,9.382],[0.109,9.658],[0.153,9.831],[0.197,9.689],[0.219,9.338],[0.241,9.062],[0.263,9.523],[0.328,9.320],[0.394,10.477],[0.438,9.985],[0.481,10.151],[0.613,9.443],[0.635,10.403],[0.678,10.354],[0.656,9.615],[0.722,10.262],[0.766,10.108],[0.875,10.095],[1.269,10.520],[3.654,11.234]];
const P31 = [[-1.104,10.587],[-0.949,10.667],[-0.949,11.413],[-0.817,11.175],[-0.618,10.905],[-0.353,11.889],[-0.221,12.310],[-0.159,11.675],[-0.044,12.111],[-0.066,11.794],[0.000,11.794],[0.088,11.381],[0.155,11.595],[0.199,11.397],[0.221,11.238],[0.265,11.730],[0.331,11.714],[0.353,13.159],[0.375,11.952],[0.442,12.548],[0.486,12.032],[0.530,11.413],[0.596,11.413],[0.640,12.286],[0.706,12.016],[0.751,12.429],[0.861,12.190],[1.236,12.929],[3.642,13.881]];
const P32 = [[-1.104,12.563],[-0.927,12.641],[-0.949,13.269],[-0.795,13.096],[-0.596,12.861],[-0.375,13.959],[-0.265,14.210],[-0.221,13.622],[-0.066,13.543],[-0.044,14.131],[0.000,13.269],[0.044,13.645],[0.110,13.363],[0.221,13.700],[0.243,13.347],[0.331,14.916],[0.331,14.014],[0.375,13.347],[0.442,14.720],[0.442,13.857],[0.508,14.186],[0.596,13.363],[0.640,14.406],[0.662,14.131],[0.728,14.210],[0.773,14.171],[0.883,14.171],[1.236,14.900],[3.642,15.818]];
const P33 = [[-1.104,8.839],[-0.883,8.930],[-0.949,9.398],[-0.795,9.314],[-0.596,8.965],[-0.353,9.921],[-0.221,9.698],[-0.177,9.733],[-0.044,10.256],[-0.022,9.349],[0.044,10.103],[0.088,9.712],[0.132,9.698],[0.199,9.433],[0.265,9.488],[0.331,9.907],[0.375,11.024],[0.397,9.698],[0.442,9.942],[0.486,10.500],[0.530,9.488],[0.596,9.977],[0.640,9.502],[0.662,10.326],[0.706,10.151],[0.795,10.117],[0.883,10.103],[1.258,10.814],[3.664,11.756]];
const P34 = [[-1.044,13.305],[-1.000,13.672],[-0.637,13.988],[-0.604,13.723],[-0.484,13.602],[-0.440,13.723],[-0.407,14.034],[-0.385,14.206],[-0.363,13.872],[-0.319,14.508],[-0.275,14.531],[-0.220,14.141],[-0.176,14.173],[-0.088,14.243],[-0.088,14.438],[-0.033,14.127],[-0.033,13.918],[0.066,14.420],[0.077,14.452],[0.319,14.522],[0.407,14.276],[0.440,14.624],[0.484,14.661],[0.505,14.787],[0.560,14.522],[0.703,14.884],[0.780,14.754],[0.923,14.698],[0.989,14.940],[1.022,15.242],[1.220,14.833],[1.253,14.801],[1.319,14.299]];
const P35 = [[-1.055,11.014],[-1.011,11.398],[-0.648,11.657],[-0.637,11.489],[-0.484,11.393],[-0.462,11.360],[-0.418,11.815],[-0.407,12.055],[-0.352,11.609],[-0.319,12.319],[-0.297,12.333],[-0.231,11.897],[-0.110,12.281],[-0.099,11.897],[-0.033,11.839],[-0.033,11.609],[0.055,12.137],[0.066,12.233],[0.297,12.281],[0.319,12.319],[0.385,11.935],[0.440,12.367],[0.473,12.487],[0.505,12.472],[0.549,12.247],[0.538,12.703],[0.692,12.727],[0.769,12.429],[0.923,12.592],[0.967,12.693],[1.022,13.024],[1.209,12.583],[1.297,12.079]];
const P36 = [[-0.991,12.041],[-0.843,13.059],[-0.384,12.789],[-0.310,12.992],[-0.285,12.789],[-0.198,12.840],[-0.161,13.094],[-0.112,13.374],[-0.087,13.552],[-0.037,12.774],[-0.025,13.232],[0.000,13.527],[-0.012,13.120],[0.050,13.170],[0.037,13.730],[0.074,13.435],[0.087,13.603],[0.124,12.967],[0.285,13.883],[0.335,13.450],[0.372,13.654],[0.446,13.018],[0.483,13.791],[0.533,13.746],[0.558,14.163],[0.582,13.781],[0.620,13.959],[0.682,13.807],[0.768,13.883],[0.830,14.148],[0.929,13.858],[1.673,13.435]];
const P37 = [[-0.972,10.107],[-0.836,10.926],[-0.381,10.189],[-0.271,10.347],[-0.271,10.675],[-0.209,10.675],[-0.123,10.991],[-0.049,11.564],[-0.012,10.445],[-0.012,11.373],[0.025,11.427],[0.025,11.237],[0.025,11.056],[0.062,10.718],[0.074,11.291],[0.098,10.800],[0.123,10.609],[0.295,11.455],[0.320,11.318],[0.344,10.893],[0.443,10.653],[0.492,11.809],[0.529,11.689],[0.566,11.973],[0.603,12.126],[0.689,11.809],[0.750,12.257],[0.775,11.880],[0.849,11.891],[0.910,11.907],[1.661,10.702],[0.037,12.393]];
const P38 = [[-0.958,10.387],[-0.653,10.365],[-0.621,10.288],[-0.547,10.869],[-0.379,10.950],[-0.358,10.590],[-0.305,11.099],[-0.253,10.725],[-0.179,10.514],[-0.126,11.027],[-0.074,11.086],[0.053,10.779],[0.095,11.829],[0.095,11.559],[0.126,11.514],[0.147,11.243],[0.326,11.198],[0.347,11.324],[0.495,11.635],[0.505,10.635],[0.537,11.964],[0.568,11.369],[0.600,11.784],[0.600,11.730],[0.600,11.581],[0.632,11.505],[0.747,10.995],[0.779,11.311],[0.737,11.928],[0.979,11.820],[1.011,12.167],[1.116,11.640],[1.305,11.523]];
const P39 = [[-0.984,15.408],[-0.695,15.387],[-0.663,15.376],[-0.567,15.625],[-0.374,15.495],[-0.374,15.625],[-0.321,15.863],[-0.267,15.765],[-0.193,15.567],[-0.128,15.686],[-0.128,15.731],[-0.053,15.889],[0.032,15.659],[0.086,16.228],[0.086,16.157],[0.118,16.083],[0.139,15.937],[0.321,15.924],[0.353,15.990],[0.471,16.223],[0.503,15.487],[0.556,16.170],[0.578,16.109],[0.588,16.223],[0.599,16.038],[0.610,16.083],[0.727,16.247],[0.749,15.686],[0.781,15.937],[0.984,16.366],[1.027,16.479],[1.123,16.135],[1.316,16.135]];
const P40 = [[-0.995,17.242],[-0.703,17.097],[-0.649,17.227],[-0.584,17.232],[-0.389,17.019],[-0.378,17.227],[-0.324,17.235],[-0.270,17.324],[-0.205,17.293],[-0.130,17.221],[-0.130,17.154],[-0.076,17.288],[0.032,17.309],[0.065,17.315],[0.086,17.391],[0.119,17.394],[0.141,17.258],[0.303,17.200],[0.357,17.332],[0.465,17.364],[0.497,17.101],[0.573,17.270],[0.595,17.423],[0.605,17.391],[0.605,17.338],[0.562,17.194],[0.735,17.191],[0.757,17.074],[0.789,17.352],[0.984,17.511],[1.027,17.461],[1.135,17.279],[1.330,17.338]];

const panelPoints = [P01, P02, P03, P04, P05, P06, P07, P08, P09, P10, P11, P12, P13, P14, P15, P16, P17, P18, P19, P20,
                     P21, P22, P23, P24, P25, P26, P27, P28, P29, P30, P31, P32, P33, P34, P35, P36, P37, P38, P39, P40];

// ---- layout: 8 columns of panels, 384 px apart --------------------------
const COLS = 8, PITCH = 384;
const BOX_L = 104, BOX_T = 104, BOX_W = 227, BOX_H = 150;
const FONT = '"Liberation Sans", Arial, Helvetica, sans-serif';
const X_TICK_SIZE = 31;

// The vertical-axis numbers use a narrow sans when one is installed.
function fontInstalled(name) {
  const ctx = document.createElement('canvas').getContext('2d');
  const probe = 'mmmmwwwwllii0123456789';
  ctx.font = '72px monospace';
  const base = ctx.measureText(probe).width;
  ctx.font = '72px "' + name + '", monospace';
  return Math.abs(ctx.measureText(probe).width - base) > 0.5;
}
const NARROW = fontInstalled('Liberation Sans Narrow');
const Y_TICK_FONT = NARROW ? '"Liberation Sans Narrow", "Liberation Sans", sans-serif' : FONT;
const Y_TICK_SIZE = NARROW ? 37 : 33;

const toMinus = s => String(s).replace(/-/g, '\u2212');
const inRange = (v, lim) => v >= lim[0] - 1e-9 && v <= lim[1] + 1e-9;
const labelLookup = strs => {
  const vals = strs.map(Number);
  return v => {
    const k = vals.findIndex(u => Math.abs(u - v) < 1e-9);
    return k >= 0 ? toMinus(strs[k]) : '';
  };
};

const option = {
  animation: false,
  backgroundColor: '#ffffff',
  title: [], grid: [], xAxis: [], yAxis: [], series: []
};

panelPoints.forEach((pts, i) => {
  const col = i % COLS, row = Math.floor(i / COLS);
  const x0 = col * PITCH, y0 = row * PITCH;
  const xl = xLims[i], yl = yLims[i];

  option.title.push({
    text: toMinus(titles[i]),
    left: x0 + BOX_L + BOX_W / 2,
    top: y0 + 53,
    padding: 0,
    textAlign: 'center',
    textVerticalAlign: 'middle',
    textStyle: { fontFamily: FONT, fontWeight: 'bold', fontSize: 31, color: '#000' }
  });

  option.grid.push({
    left: x0 + BOX_L, top: y0 + BOX_T, width: BOX_W, height: BOX_H,
    show: true, borderColor: '#000', borderWidth: 2, backgroundColor: '#fff'
  });

  option.xAxis.push({
    type: 'value', gridIndex: i, min: xl[0], max: xl[1],
    axisLine: { show: true, onZero: false, lineStyle: { color: '#000', width: 2 } },
    axisTick: { show: true, inside: false, length: 12, lineStyle: { color: '#000', width: 2 },
                customValues: xTicks[i].filter(v => inRange(v, xl)) },
    axisLabel: { show: true, margin: 20, fontSize: X_TICK_SIZE, color: '#000', fontFamily: FONT,
                 customValues: xTickLabels[i].map(Number).filter(v => inRange(v, xl)),
                 formatter: labelLookup(xTickLabels[i]) },
    splitLine: { show: false },
    name: xNames[i], nameLocation: 'middle', nameGap: 86,
    nameTextStyle: { fontSize: 13, color: '#000', fontFamily: FONT }
  });

  option.yAxis.push({
    type: 'value', gridIndex: i, min: yl[0], max: yl[1],
    axisLine: { show: true, onZero: false, lineStyle: { color: '#000', width: 2 } },
    axisTick: { show: true, inside: false, length: 12, lineStyle: { color: '#000', width: 2 },
                customValues: yTicks[i].filter(v => inRange(v, yl)) },
    axisLabel: { show: true, margin: 19, rotate: 90, fontSize: Y_TICK_SIZE, color: '#000', fontFamily: Y_TICK_FONT,
                 customValues: yTickLabels[i].map(Number).filter(v => inRange(v, yl)),
                 formatter: labelLookup(yTickLabels[i]) },
    splitLine: { show: false },
    name: yNames[i], nameLocation: 'middle', nameGap: 80, nameRotate: 90,
    nameTextStyle: { fontSize: 13, color: '#000', fontFamily: FONT }
  });

  option.series.push({
    type: 'scatter', xAxisIndex: i, yAxisIndex: i, data: pts,
    symbol: 'circle', symbolSize: 12, clip: false, silent: true, z: 2,
    itemStyle: { color: colors[i], borderColor: '#000', borderWidth: 1.8, opacity: 1 }
  });

  // regression line, extended past the plot box and clipped to it
  const [[ax, ay], [bx, by]] = fitLines[i];
  const slope = (by - ay) / (bx - ax);
  const span = xl[1] - xl[0];
  const lx0 = xl[0] - span, lx1 = xl[1] + span;
  option.series.push({
    type: 'line', xAxisIndex: i, yAxisIndex: i,
    data: [[lx0, ay + slope * (lx0 - ax)], [lx1, ay + slope * (lx1 - ax)]],
    symbol: 'none', clip: true, silent: true, z: 3,
    lineStyle: { color: '#000', width: 2.5 }
  });
});

const chart = echarts.init(document.getElementById('chart'), null, { renderer: 'canvas' });
chart.setOption(option);
</script>
</body>
</html>
